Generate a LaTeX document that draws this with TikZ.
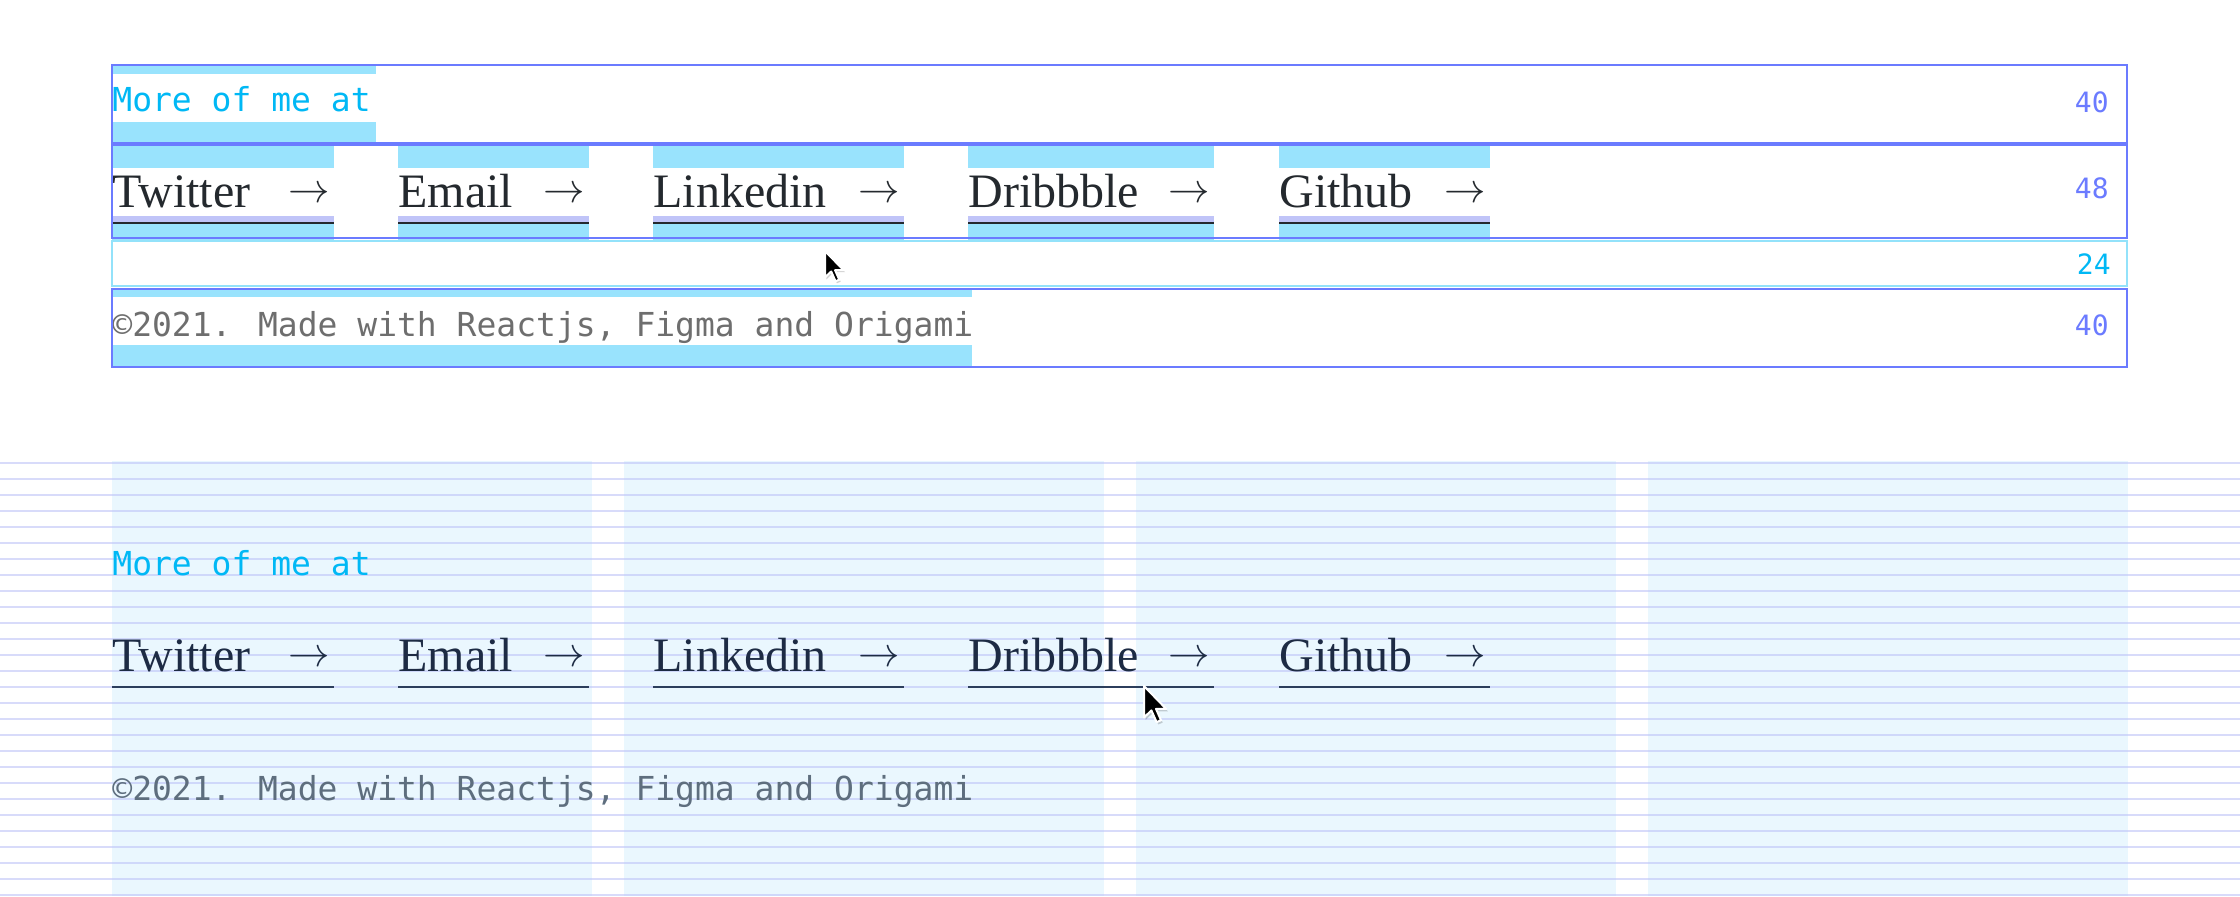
\documentclass[tikz,border=0pt]{standalone}
\usepackage{fontspec}
\newfontfamily\monof{DejaVu Sans Mono}
\newfontfamily\seriff{Liberation Serif}
\definecolor{boxblue}{RGB}{107,123,255}
\definecolor{rowcyan}{RGB}{147,226,250}
\definecolor{hlcyan}{RGB}{153,227,253}
\definecolor{lavstrip}{RGB}{192,196,248}
\definecolor{cyantxt}{RGB}{0,184,245}
\definecolor{darktxt}{RGB}{36,41,46}
\definecolor{graytxt}{RGB}{110,110,110}
\definecolor{navytxt}{RGB}{29,43,68}
\definecolor{navyline}{RGB}{44,62,92}
\definecolor{slatetxt}{RGB}{94,110,126}
\definecolor{colfill}{RGB}{234,247,254}
\definecolor{gridline}{RGB}{190,196,248}
\tikzset{
  rowbox/.style={draw=boxblue, line width=1pt},
  rowboxlight/.style={draw=rowcyan, line width=1pt},
  monotxt/.style={inner sep=0pt, font=\monof\fontsize{16.5pt}{20pt}\selectfont},
  seriftxt/.style={inner sep=0pt, font=\seriff\fontsize{24pt}{28pt}\selectfont},
  arrowtxt/.style={inner sep=0pt, font=\fontsize{21pt}{24pt}\selectfont},
  lbltxt/.style={inner sep=0pt, anchor=base east, font=\monof\fontsize{14pt}{16pt}\selectfont},
  cursorpic/.pic={
    \fill[black, opacity=0.18] (0.9,1.3) -- (0.9,18.3) -- (4.9,14.5) -- (7.7,20.8) -- (10.1,19.8) -- (7.4,13.7) -- (12.9,13.7) -- cycle;
    \filldraw[fill=black, draw=white, line width=1pt, line join=round]
      (0,0) -- (0,17) -- (4,13.2) -- (6.8,19.5) -- (9.2,18.5) -- (6.5,12.4) -- (12,12.4) -- cycle;
  }
}
\begin{document}
\begin{tikzpicture}[x=0.5pt, y=-0.5pt]
\useasboundingbox (0,0) rectangle (2240,896);
\fill[white] (0,0) rectangle (2240,896);

% ---------- top section ----------
% row 1 highlight
\fill[hlcyan] (112,64) rectangle (376,74);
\fill[hlcyan] (112,122) rectangle (376,144);
% row 4 highlight
\fill[hlcyan] (112,288) rectangle (972,297);
\fill[hlcyan] (112,345) rectangle (972,368);
% row 2 items
\foreach \w/\a/\b [count=\i] in {Twitter/112/334, Email/398/589, Linkedin/653/904, Dribbble/968/1214, Github/1279/1490} {
  \fill[hlcyan] (\a,144) rectangle (\b,168);
  \fill[lavstrip] (\a,216) rectangle (\b,222);
  \fill[darktxt] (\a,222) rectangle (\b,224);
  \fill[hlcyan] (\a,224) rectangle (\b,240);
  \node[seriftxt, text=darktxt, anchor=base west] (tw\i) at (\a,207) {\w};
  \node[arrowtxt, text=darktxt, anchor=base east] (ta\i) at (\b-4,202.5) {$\rightarrow$};
}
% texts
\node[monotxt, text=cyantxt, anchor=base west] (more1) at (112,111) {More of me at};
\node[monotxt, text=graytxt, anchor=base west] (copy1) at (112,336) {©2021. Made with Reactjs, Figma and Origami};
% row borders
\draw[rowbox] (112,65) rectangle (2127,143);
\draw[rowbox] (112,145) rectangle (2127,238);
\draw[rowboxlight] (112,241) rectangle (2127,286);
\draw[rowbox] (112,289) rectangle (2127,367);
% labels
\node[lbltxt, text=boxblue] (lab1) at (2109,112) {40};
\node[lbltxt, text=boxblue] (lab2) at (2109,198) {48};
\node[lbltxt, text=cyantxt] (lab3) at (2111,274) {24};
\node[lbltxt, text=boxblue] (lab4) at (2109,335) {40};
\pic[scale=1.55] at (825,251) {cursorpic};

% ---------- bottom section ----------
\foreach \a in {112,624,1136,1648} {
  \fill[colfill] (\a,461) rectangle (\a+480,896);
}
\foreach \k in {0,...,27} {
  \draw[gridline, opacity=0.6, line width=1pt] (0,463+16*\k) -- (2240,463+16*\k);
}
\node[monotxt, text=cyantxt, anchor=base west] (more2) at (112,575) {More of me at};
\foreach \w/\a/\b [count=\i] in {Twitter/112/334, Email/398/589, Linkedin/653/904, Dribbble/968/1214, Github/1279/1490} {
  \fill[navyline] (\a,686) rectangle (\b,688);
  \node[seriftxt, text=navytxt, anchor=base west] (bw\i) at (\a,671) {\w};
  \node[arrowtxt, text=navytxt, anchor=base east] (ba\i) at (\b-4,666.5) {$\rightarrow$};
}
\node[monotxt, text=slatetxt, anchor=base west] (copy2) at (112,800) {©2021. Made with Reactjs, Figma and Origami};
\pic[scale=1.85] at (1144,686) {cursorpic};
\end{tikzpicture}
\end{document}
